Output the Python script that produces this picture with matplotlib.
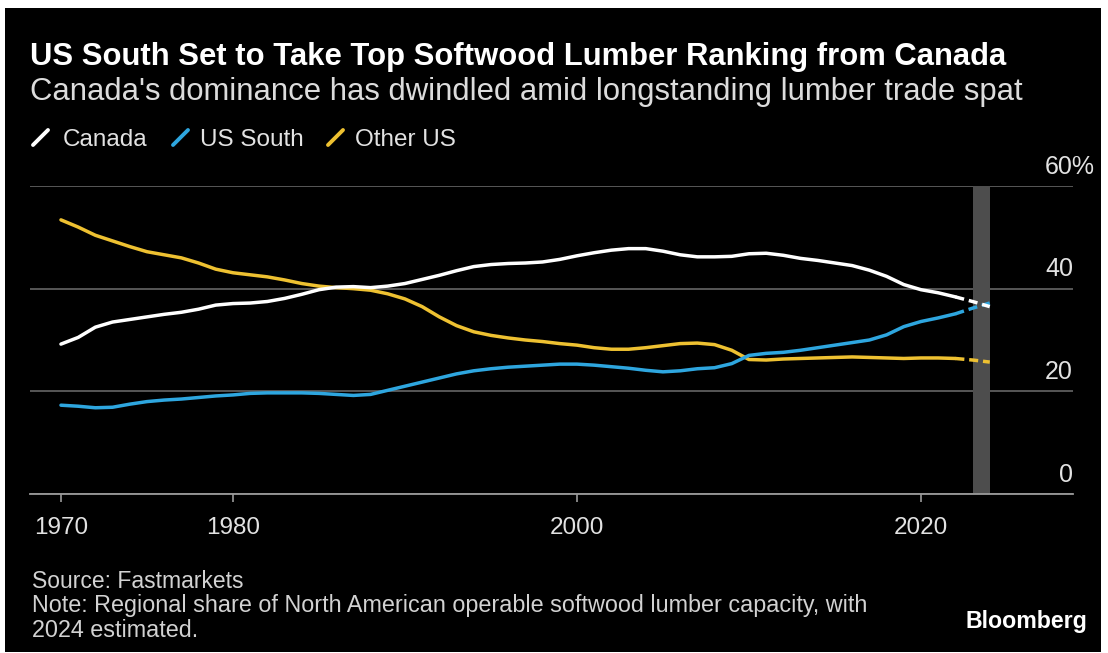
import matplotlib
matplotlib.use("Agg")
import matplotlib.pyplot as plt
from matplotlib.patches import Rectangle
from matplotlib.lines import Line2D
import matplotlib.transforms as mtrans

# ---------------- data ----------------
years = list(range(1970, 2025))
canada = [29.2, 30.5, 32.5, 33.5, 34.0, 34.5, 35.0, 35.4, 36.0, 36.8,
          37.1, 37.2, 37.5, 38.1, 38.9, 39.8, 40.3, 40.4, 40.2, 40.5,
          41.0, 41.8, 42.6, 43.5, 44.3, 44.7, 44.9, 45.0, 45.2, 45.7,
          46.4, 47.0, 47.5, 47.8, 47.8, 47.3, 46.6, 46.2, 46.2, 46.3,
          46.8, 46.9, 46.5, 45.9, 45.5, 45.0, 44.5, 43.6, 42.4, 40.8,
          39.8, 39.2, 38.4, 37.5, 36.5]
us_south = [17.3, 17.1, 16.8, 16.9, 17.5, 18.0, 18.3, 18.5, 18.8, 19.1,
            19.3, 19.6, 19.7, 19.7, 19.7, 19.6, 19.4, 19.2, 19.4, 20.2,
            21.0, 21.8, 22.6, 23.4, 24.0, 24.4, 24.7, 24.9, 25.1, 25.3,
            25.3, 25.1, 24.8, 24.5, 24.1, 23.8, 24.0, 24.4, 24.6, 25.4,
            27.0, 27.4, 27.6, 28.0, 28.5, 29.0, 29.5, 30.0, 31.0, 32.6,
            33.6, 34.3, 35.1, 36.2, 37.2]
other_us = [53.4, 52.0, 50.4, 49.3, 48.2, 47.2, 46.6, 46.0, 45.0, 43.8,
            43.1, 42.7, 42.3, 41.7, 41.0, 40.5, 40.2, 40.0, 39.7, 39.0,
            38.0, 36.5, 34.5, 32.8, 31.6, 30.9, 30.4, 30.0, 29.7, 29.3,
            29.0, 28.5, 28.2, 28.2, 28.5, 28.9, 29.3, 29.4, 29.1, 28.0,
            26.2, 26.1, 26.3, 26.4, 26.5, 26.6, 26.7, 26.6, 26.5, 26.4,
            26.5, 26.5, 26.4, 26.1, 25.7]
series_names = ["Canada", "US South", "Other US"]
x_ticks = [1970, 1980, 2000, 2020]
y_ticks = [0, 20, 40, 60]
y_tick_labels = ["0", "20", "40", "60"]
last_actual = 2022
estimate_band = (2023, 2024)

# ---------------- style ----------------
W, H = 1108, 653
colors = ["#ffffff", "#2ea6df", "#eec131"]
plt.rcParams["font.family"] = ["Liberation Sans", "DejaVu Sans"]

fig = plt.figure(figsize=(W / 100, H / 100), dpi=100, facecolor="white")

def fx(x):
    return x / W

def fy(y):
    return 1 - y / H

fig.patches.append(Rectangle((fx(5), fy(652)), fx(1101) - fx(5), fy(8) - fy(652),
                             transform=fig.transFigure, facecolor="black",
                             edgecolor="none", zorder=-10))

ax = fig.add_axes([fx(30), fy(494), fx(1073) - fx(30), fy(186) - fy(494)])
ax.set_facecolor("none")
ax.set_xlim(1968.2, 2028.84)
ax.set_ylim(0, 60)
for s in ["top", "left", "right"]:
    ax.spines[s].set_visible(False)
ax.spines["bottom"].set_color("#9a9a9a")
ax.spines["bottom"].set_linewidth(1.3)

ax.set_yticks(y_ticks)
ax.tick_params(axis="y", left=False, labelleft=False)
ax.yaxis.grid(True, color="#5e5e5e", linewidth=1.3)
ax.set_axisbelow(True)

ax.set_xticks(x_ticks)
ax.set_xticklabels([str(t) for t in x_ticks])
ax.tick_params(axis="x", length=6, width=1.2, color="#9a9a9a", pad=10.5,
               labelsize=17.5, labelcolor="#e2e2e2")

# y labels above the grid lines, right aligned
trans = mtrans.blended_transform_factory(ax.transAxes, ax.transData)
off = mtrans.offset_copy(trans, fig=fig, x=0, y=9, units="points")
ylab_texts = []
for v, lab in zip(y_ticks, y_tick_labels):
    t = ax.text(1.0, v, lab, transform=off, ha="right", va="baseline",
                fontsize=18, color="#e2e2e2")
    ylab_texts.append(t)

ax.axvspan(estimate_band[0], estimate_band[1], color="#4d4d4d", zorder=1.5, lw=0)

series = [canada, us_south, other_us]
for idx in [2, 1, 0]:
    vals = series[idx]
    n = years.index(last_actual) + 1
    ax.plot(years[:n], vals[:n], color=colors[idx], lw=2.5, solid_capstyle="round",
            zorder=3, clip_on=False)
    ax.plot(years[n - 1:], vals[n - 1:], color=colors[idx], lw=2.5,
            dashes=(2.6, 1.4), dash_capstyle="butt", zorder=3, clip_on=False)

# ---------------- text ----------------
def ftext(x, y, s, **kw):
    return fig.text(fx(x), fy(y), s, va="baseline", ha=kw.pop("ha", "left"), **kw)

texts = []
texts.append((ftext(30, 65, "US South Set to Take Top Softwood Lumber Ranking from Canada",
                    fontsize=18, fontweight="bold", color="white"), 975))
texts.append((ftext(30, 100, "Canada's dominance has dwindled amid longstanding lumber trade spat",
                    fontsize=18, color="#dcdcdc"), 988))

leg_x = [(33, 63), (173, 200), (328, 355)]
for (sx, tx), name, c in zip(leg_x, series_names, colors):
    fig.add_artist(Line2D([fx(sx), fx(sx + 15)], [fy(145), fy(130)], color=c, lw=2.8,
                          solid_capstyle="round", transform=fig.transFigure))
    ftext(tx, 146, name, fontsize=17.5, color="#e2e2e2")

texts.append((ftext(32, 588, "Source: Fastmarkets", fontsize=14, color="#d2d2d2"), 213))
texts.append((ftext(32, 612, "Note: Regional share of North American operable softwood lumber capacity, with",
                    fontsize=14, color="#d2d2d2"), 840))
ftext(32, 637, "2024 estimated.", fontsize=14, color="#d2d2d2")
texts.append((ftext(965, 628, "Bloomberg", fontsize=14, fontweight="bold", color="white"), 122))

fig.canvas.draw()
r = fig.canvas.get_renderer()
note_size = None
for t, target in texts:
    w = t.get_window_extent(r).width
    t.set_fontsize(t.get_fontsize() * target / w)
    if t.get_text().startswith("Note"):
        note_size = t.get_fontsize()
for t in fig.texts:
    if t.get_text() == "2024 estimated.":
        t.set_fontsize(note_size)

# top label: "60%" with the percent sign hanging past the right edge
top = ylab_texts[-1]
w60 = top.get_window_extent(r).width
top.set_text(y_tick_labels[-1] + "%")
top.set_ha("left")
top.set_transform(mtrans.offset_copy(trans, fig=fig, x=-w60 * 72 / fig.dpi, y=9,
                                     units="points"))

fig.savefig("out.png", dpi=100, facecolor="white")
